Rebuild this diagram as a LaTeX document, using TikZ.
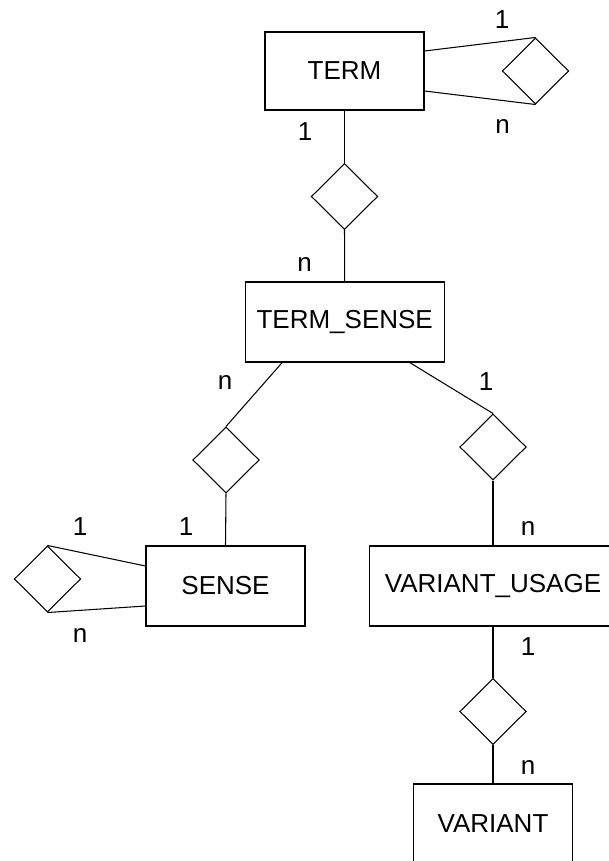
\documentclass[tikz,border=0pt]{standalone}
\usepackage{fontspec}
\setmainfont{Liberation Sans}
\usetikzlibrary{shapes.geometric}

\tikzset{
  entity/.style={draw, rectangle, minimum height=1.6cm, inner sep=0pt},
  relation/.style={draw, diamond, aspect=1, minimum width=1.33cm, minimum height=1.32cm, inner sep=0pt},
}

\begin{document}
\begin{tikzpicture}[x=0.02cm, y=-0.02cm, line width=0.6pt,
    font=\fontsize{14.8}{17.8}\selectfont]
  \useasboundingbox (0,0) rectangle (608,861);

  % entities
  \node[entity, minimum width=3.18cm, minimum height=1.56cm] (term) at (344.5,71) {TERM};
  \node[entity, minimum width=3.98cm] (termsense) at (344.7,322) {TERM\_SENSE};
  \node[entity, minimum width=3.18cm] (sense) at (225.5,586) {SENSE};
  \node[entity, minimum width=4.96cm] (usage) at (493,586) {VARIANT\_USAGE};
  \node[entity, minimum width=3.18cm] (variant) at (493,824) {VARIANT};

  % relationships
  \node[relation] (selfterm) at (535.5,71) {};
  \node[relation] (hassense) at (344.5,196.5) {};
  \node[relation] (meaning) at (226,460) {};
  \node[relation] (usedas) at (493,447) {};
  \node[relation] (selfsense) at (47.5,579) {};
  \node[relation] (realizes) at (493,711.5) {};

  % connectors
  \draw ([yshift=0.4cm]term.east) -- (selfterm.north);
  \draw ([yshift=-0.4cm]term.east) -- (selfterm.south);
  \draw (term.south) -- (hassense.north);
  \draw (hassense.south) -- (termsense.north);
  \draw ([xshift=-1.25cm]termsense.south) -- (meaning.north);
  \draw ([xshift=1.3cm]termsense.south) -- (usedas.north);
  \draw (meaning.south) -- (sense.north);
  \draw ([yshift=0.4cm]sense.west) -- (selfsense.north);
  \draw ([yshift=-0.4cm]sense.west) -- (selfsense.south);
  \draw (usedas.south) -- (usage.north);
  \draw (usage.south) -- (realizes.north);
  \draw (realizes.south) -- (variant.north);

  % cardinalities
  \node (c1) at (502,20) {1};
  \node (c2) at (502.5,127) {n};
  \node (c3) at (305,132) {1};
  \node (c4) at (304.5,265) {n};
  \node (c5) at (225,383) {n};
  \node (c6) at (486,382) {1};
  \node (c7) at (80,527) {1};
  \node (c8) at (186,527) {1};
  \node (c9) at (528,528) {n};
  \node (c10) at (80,635) {n};
  \node (c11) at (528,647) {1};
  \node (c12) at (528,767) {n};
\end{tikzpicture}
\end{document}
